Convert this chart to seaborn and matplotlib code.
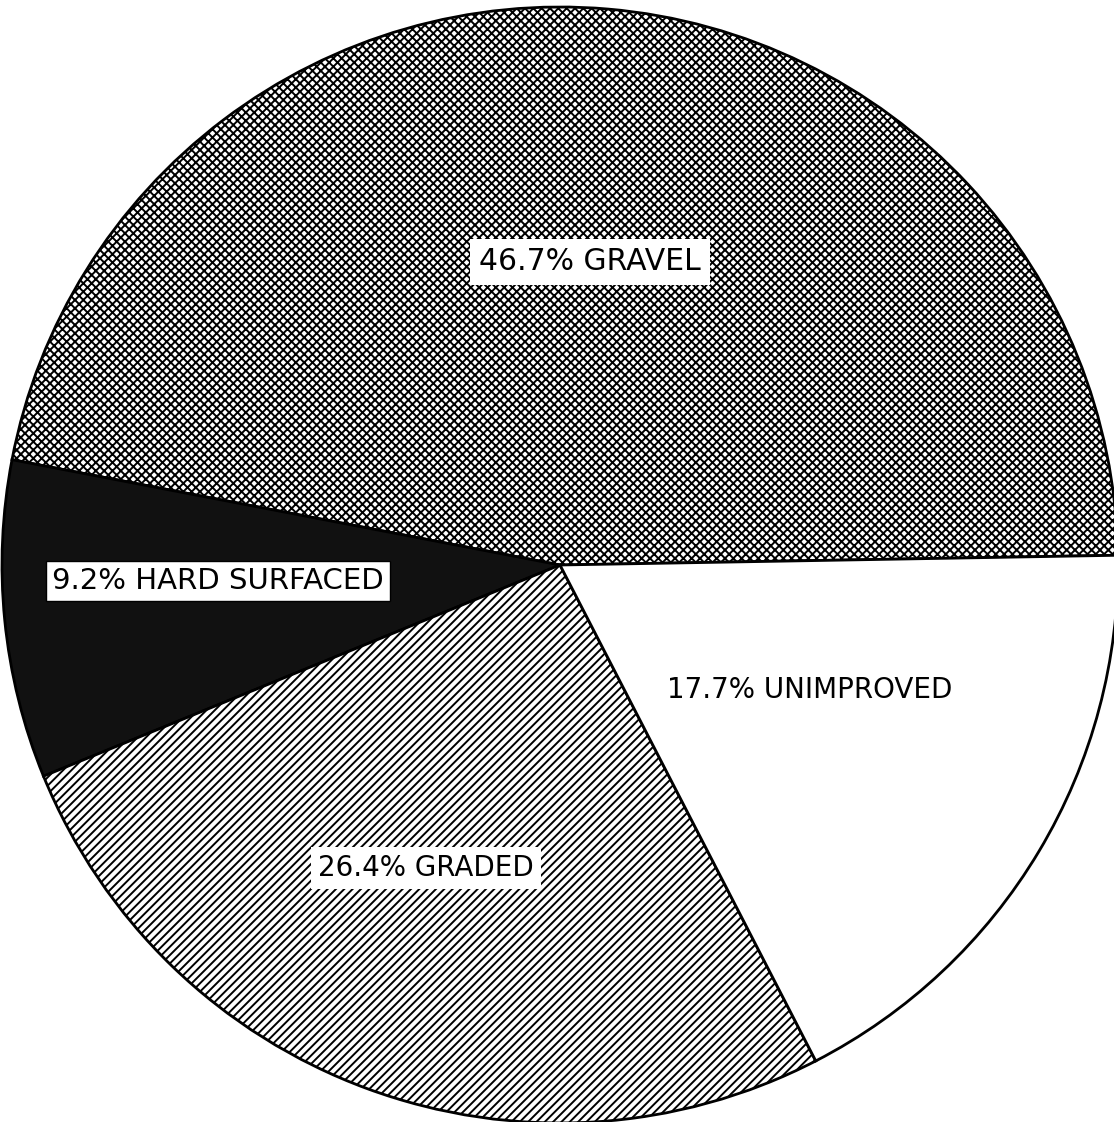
import matplotlib
matplotlib.use("Agg")
import matplotlib.pyplot as plt
import seaborn as sns

categories = ["GRAVEL", "HARD SURFACED", "GRADED", "UNIMPROVED"]
shares = [46.7, 9.2, 26.4, 17.7]
labels = ["46.7% GRAVEL", "9.2% HARD SURFACED", "26.4% GRADED", "17.7% UNIMPROVED"]

sns.set_theme(style="white")
plt.rcParams["font.family"] = ["DejaVu Sans"]
plt.rcParams["hatch.linewidth"] = 1.4

fig = plt.figure(figsize=(11.14, 11.22), dpi=100)
ax = fig.add_axes([0, 0, 1, 1])
ax.set_axis_off()

wedges, _ = ax.pie(shares, startangle=1, counterclock=True, radius=1.0,
                   colors=["white", "#111111", "white", "white"],
                   wedgeprops=dict(edgecolor="black", linewidth=2))
hatches = ["xxxx", "", "////", ""]
for w, h in zip(wedges, hatches):
    w.set_hatch(h)

ax.set_xlim(-560 / 558, (1114 - 560) / 558)
ax.set_ylim(-557 / 558, 565 / 558)
ax.set_aspect("auto")

def px(x, y):
    return (x - 560) / 558, (565 - y) / 558

ax.text(*px(590, 262), labels[0], fontsize=21.5, ha="center", va="center",
        color="black",
        bbox=dict(boxstyle="square,pad=0.3", fc="white", ec="none"))
ax.text(*px(218, 581), labels[1], fontsize=21, ha="center", va="center",
        color="black",
        bbox=dict(boxstyle="square,pad=0.2", fc="white", ec="black", lw=1))
ax.text(*px(426, 868), labels[2], fontsize=20, ha="center", va="center",
        color="black",
        bbox=dict(boxstyle="square,pad=0.25", fc="white", ec="none"))
ax.text(*px(810, 690), labels[3], fontsize=20, ha="center", va="center",
        color="black")

fig.savefig("out.png", dpi=100, facecolor="white")
